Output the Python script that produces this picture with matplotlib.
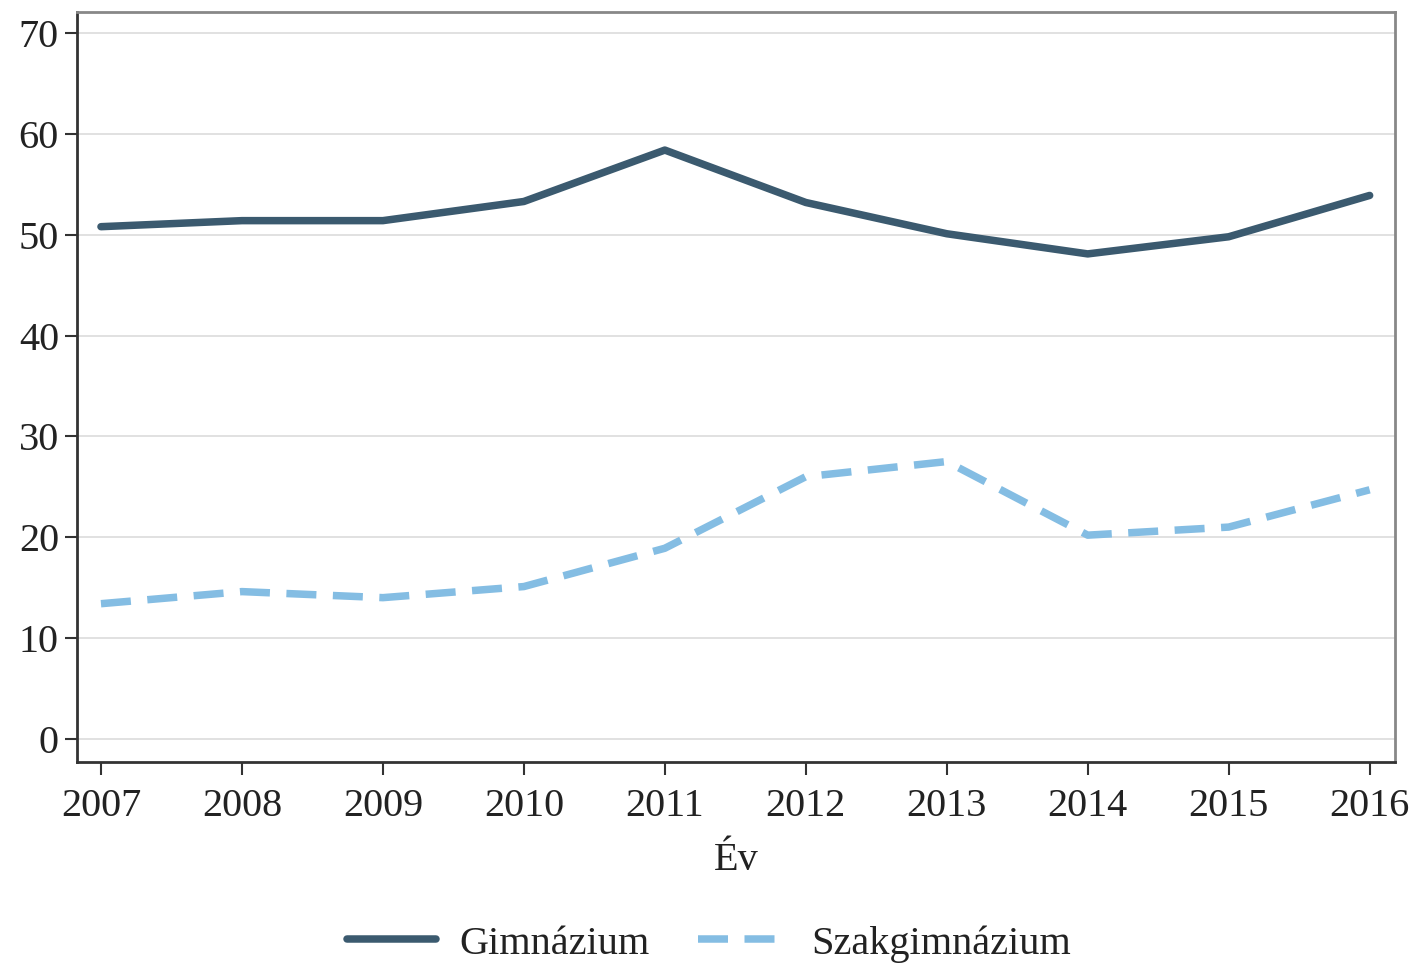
import matplotlib
matplotlib.use('Agg')
import matplotlib.pyplot as plt

plt.rcParams['font.family'] = ['Liberation Serif', 'DejaVu Serif']

years = [2007, 2008, 2009, 2010, 2011, 2012, 2013, 2014, 2015, 2016]
gimnazium = [50.8, 51.4, 51.4, 53.3, 58.4, 53.2, 50.1, 48.1, 49.8, 53.9]
szakgimnazium = [13.4, 14.6, 14.0, 15.1, 18.9, 26.0, 27.5, 20.2, 21.0, 24.7]
y_ticks = [0, 10, 20, 30, 40, 50, 60, 70]

fig = plt.figure(figsize=(14.18, 9.65), dpi=100)
ax = fig.add_axes([0.0543, 0.2104, 0.9295, 0.7772])

ax.plot(years, gimnazium, color='#3b5a6f', lw=5.4, solid_capstyle='round', label='Gimnázium')
ax.plot(years, szakgimnazium, color='#84bde3', lw=5.4, dashes=(4.0, 2.2), label='Szakgimnázium')

ax.set_xlim(2006.83, 2016.18)
ax.set_ylim(-2.3, 72.1)
ax.set_xticks(years)
ax.set_yticks(y_ticks)
ax.yaxis.grid(True, color='#dcdcdc', lw=1.2)
ax.set_axisbelow(True)

ax.tick_params(axis='both', labelsize=29, length=9, width=1.5, color='#333333', labelcolor='#222222')
ax.tick_params(axis='x', pad=10)
ax.tick_params(axis='y', pad=4)
for side in ['left', 'bottom']:
    ax.spines[side].set_color('#333333')
    ax.spines[side].set_linewidth(2)
for side in ['top', 'right']:
    ax.spines[side].set_color('#888888')
    ax.spines[side].set_linewidth(2)

ax.set_xlabel('Év', fontsize=29, color='#222222', labelpad=12)

fig.legend(loc='center', bbox_to_anchor=(0.5, 0.022), ncol=2, frameon=False,
           fontsize=29, handlelength=2.2, handletextpad=0.6, columnspacing=1.2,
           labelcolor='#222222')

fig.savefig('out.png', dpi=100)
